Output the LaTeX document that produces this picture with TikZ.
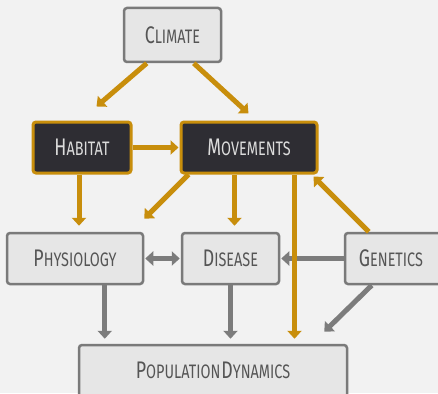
\documentclass[tikz,border=0pt]{standalone}
\usepackage{fontspec}
\usetikzlibrary{arrows.meta}
\newfontfamily\lblfont[FakeStretch=0.74]{Fira Sans}
\newcommand\sct[2]{{\fontsize{24}{24}\selectfont #1}{\fontsize{19.5}{19.5}\selectfont #2}}
\definecolor{bg}{HTML}{F2F2F2}
\definecolor{boxfill}{HTML}{E6E6E6}
\definecolor{boxline}{HTML}{7A7A7A}
\definecolor{darkfill}{HTML}{2E2D33}
\definecolor{ora}{HTML}{C88E0C}
\definecolor{grayarr}{HTML}{7C7C7C}
\definecolor{txtdark}{HTML}{555555}
\definecolor{txtlight}{HTML}{DCDCDC}
\tikzset{
  lightbox/.style={draw=boxline, fill=boxfill, line width=2.5pt, rounded corners=3pt,
    text=txtdark, font=\lblfont, inner sep=0pt},
  darkbox/.style={draw=ora, fill=darkfill, line width=3pt, rounded corners=3pt,
    text=txtlight, font=\lblfont, inner sep=0pt},
  oarr/.style={draw=ora, line width=5pt, -{Triangle[width=14pt,length=8pt]}},
  garr/.style={draw=grayarr, line width=5pt, -{Triangle[width=14pt,length=8pt]}},
  gdarr/.style={draw=grayarr, line width=5pt, {Triangle[width=14pt,length=8pt]}-{Triangle[width=14pt,length=8pt]}},
}
\begin{document}
\begin{tikzpicture}[x=1pt,y=-1pt]
\useasboundingbox (0,0) rectangle (438,393);
\clip (0,0) rectangle (438,393);
\fill[bg] (0,0) rectangle (438,393);
% nodes
\node[lightbox, minimum width=97pt, minimum height=54pt] (clim) at (172.5,35) {\sct{C}{LIMATE}};
\node[darkbox, minimum width=98pt, minimum height=51pt] (hab) at (82,147.5) {\sct{H}{ABITAT}};
\node[darkbox, minimum width=136pt, minimum height=51pt] (mov) at (249,147.5) {\sct{M}{OVEMENTS}};
\node[lightbox, minimum width=136pt, minimum height=51pt] (phys) at (75,258.5) {\sct{P}{HYSIOLOGY}};
\node[lightbox, minimum width=97pt, minimum height=51pt] (dis) at (230.5,258.5) {\sct{D}{ISEASE}};
\node[lightbox, minimum width=100pt, minimum height=51pt] (gen) at (395,258.5) {\sct{G}{ENETICS}\hspace*{8pt}};
\node[lightbox, minimum width=268pt, minimum height=60pt] (pop) at (213,375) {\raisebox{9pt}{\sct{P}{OPULATION}\hspace{1pt}\sct{D}{YNAMICS}}};
% gray connectors
\draw[gdarr, shorten <=1pt, shorten >=1pt] (phys.east) -- (dis.west);
\draw[garr, shorten >=1pt] (gen.west) -- (dis.east);
\draw[garr, shorten >=5pt] ([xshift=99pt]phys.south west) -- ([xshift=99pt]phys.south west |- pop.north);
\draw[garr, shorten >=5pt] (dis.south) -- (dis.south |- pop.north);
\draw[garr] ([xshift=28pt]gen.south west) -- ([xshift=-24pt,yshift=12pt]pop.north east);
% orange connectors
\draw[oarr] ([xshift=24pt]clim.south west) -- ([xshift=65pt,yshift=14pt]hab.north west);
\draw[oarr] ([xshift=71pt]clim.south west) -- ([xshift=69pt,yshift=7pt]mov.north west);
\draw[oarr, shorten >=1pt] (hab.east) -- (mov.west);
\draw[oarr, shorten >=6pt] ([xshift=-3pt]hab.south) -- ([xshift=-3pt]hab.south |- phys.north);
\draw[oarr] ([xshift=9pt]mov.south west) -- ([yshift=13pt]phys.north east);
\draw[oarr, shorten >=6pt] ([xshift=55pt]mov.south west) -- ([xshift=55pt]mov.south west |- dis.north);
\draw[oarr, shorten >=5pt] ([xshift=115pt]mov.south west) -- ([xshift=115pt]mov.south west |- pop.north);
\draw[oarr] ([xshift=25pt]gen.north west) -- ([xshift=-5pt,yshift=-2pt]mov.south east);
\end{tikzpicture}
\end{document}
